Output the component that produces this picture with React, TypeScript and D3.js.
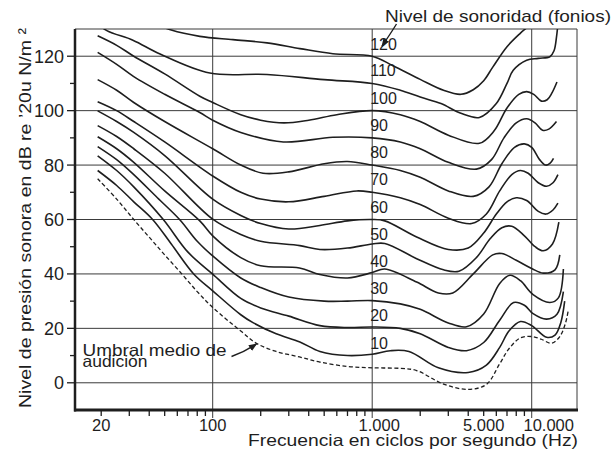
import React from 'react';
import * as d3 from 'd3';

const W = 614;
const H = 458;

// axis values
const yMajorTicks = [0, 20, 40, 60, 80, 100, 120];
const yMinorTicks = [10, 30, 50, 70, 90, 110];
const xGridValues = [100, 1000, 10000];
const xMinorTicks = [20, 30, 40, 50, 60, 70, 80, 90, 200, 300, 400, 500, 600, 700, 800, 900, 2000, 3000, 4000, 5000, 6000, 7000, 8000, 9000];
const xLabelValues = [20, 100, 1000, 5000, 10000];
const xLabelTexts = ['20', '100', '1.000', '5.000', '10.000'];

// equal-loudness curves: [frequency Hz, level dB]
const threshold: [number, number][] = [[19, 75], [25, 67.5], [32, 60], [40, 53.5], [50, 47], [64, 40], [80, 33.5], [100, 27.7], [150, 19], [188, 14.5], [250, 11.5], [350, 9.5], [470, 7.6], [700, 6], [1000, 5.5], [1500, 5.3], [1900, 4.5], [2800, -0.5], [4000, -2.4], [5200, -0.6], [6300, 7], [7200, 12.5], [8500, 16.5], [10000, 17], [11500, 16], [13300, 14.5], [15000, 17], [16300, 22], [17000, 27]];
const phon10: [number, number][] = [[19, 78], [25, 72.5], [32, 66.5], [42, 60], [55, 51], [76, 40], [100, 33.8], [150, 25], [180, 22], [250, 18], [352, 15], [470, 11.5], [700, 10], [1000, 10.5], [1300, 11.8], [1700, 11.5], [2600, 5.5], [4000, 3.8], [5200, 6.5], [6300, 13], [7200, 19], [8500, 22.5], [10000, 21], [12400, 16.7], [14000, 17.5], [15200, 22], [16100, 30]];
const phon20: [number, number][] = [[19, 83.4], [25, 78], [32, 72], [49, 60], [70, 48], [100, 39.9], [150, 31], [200, 27.5], [300, 24.5], [470, 21], [700, 20.3], [1000, 20.5], [1500, 20], [2000, 18], [3000, 13], [3900, 11.8], [5000, 14.8], [6300, 23], [7700, 29.5], [9000, 28.5], [10200, 25.4], [12400, 23.4], [14400, 25.2], [15800, 33.5]];
const phon30: [number, number][] = [[19, 86.8], [25, 82], [32, 76.5], [45, 68], [62, 60], [80, 52], [100, 46.6], [150, 38.5], [200, 35], [300, 31.5], [500, 30], [700, 30], [1000, 30.2], [1500, 29], [2000, 27], [3000, 22], [3900, 20.6], [5000, 25.3], [6300, 36.5], [7300, 39.5], [8500, 37.5], [10200, 32.4], [13000, 29.5], [14700, 31.2], [15800, 41.8]];
const phon40: [number, number][] = [[19, 90.4], [25, 86], [32, 81], [50, 70.5], [83, 59.5], [100, 54], [150, 46], [200, 43], [350, 42.2], [470, 39.8], [700, 38.5], [1000, 40.5], [1200, 41.8], [1900, 37], [2600, 33], [3200, 33], [4300, 40], [5700, 47], [6500, 47.5], [8000, 45], [10000, 42], [11800, 40.3], [14000, 41.5], [15000, 47]];
const phon50: [number, number][] = [[19, 94.5], [25, 90.5], [32, 86], [50, 77], [100, 60.1], [150, 54.5], [200, 52], [352, 50.4], [470, 49], [700, 49.5], [1000, 51], [1200, 51.2], [1900, 45.6], [2800, 41.5], [3500, 41], [4500, 46], [5500, 53], [6500, 57], [7500, 57.5], [9000, 54], [10500, 50], [11800, 48.5], [13500, 51], [14800, 59]];
const phon60: [number, number][] = [[19, 99.9], [25, 96], [32, 92], [50, 83.5], [100, 67.5], [150, 61.5], [200, 58.5], [300, 56.5], [470, 57.8], [700, 59.5], [1000, 60], [1200, 59.5], [1900, 53.6], [3000, 49], [4000, 49.5], [5000, 55], [6000, 62], [7000, 66.5], [8000, 68], [9300, 67], [11000, 63], [12300, 62], [13600, 63.5], [14600, 66]];
const phon70: [number, number][] = [[19, 103.3], [25, 100], [32, 96], [50, 88.5], [100, 76], [150, 70], [200, 67.5], [300, 66.5], [500, 68.5], [800, 70.5], [1000, 70], [1500, 68], [2000, 65.5], [3000, 60.5], [4200, 58.5], [5200, 62], [6300, 70.5], [7500, 76.5], [8500, 78], [9500, 77], [11000, 73.5], [12400, 72.2], [13600, 73.5], [14600, 76.5]];
const phon80: [number, number][] = [[19, 111.4], [25, 107.5], [32, 103], [50, 96], [100, 86], [150, 80], [207, 77], [300, 77.5], [500, 80.5], [700, 81.3], [1000, 80], [1500, 78], [2000, 75.5], [3000, 70.5], [4300, 68.5], [5400, 72], [6500, 80.5], [7800, 86.5], [9000, 87.8], [10000, 86.5], [11200, 82], [12200, 80], [13000, 80.6], [13700, 82.5]];
const phon90: [number, number][] = [[19, 121.4], [25, 117], [32, 112.5], [50, 106], [83, 99.3], [100, 96.5], [150, 92], [277, 88.5], [567, 90.2], [1000, 90], [1500, 88.5], [2000, 86], [3000, 81], [4500, 78.5], [5600, 82], [6700, 90], [8000, 95.5], [9300, 97], [10500, 95.5], [11700, 92.8], [12800, 93.2], [14300, 96]];
const phon100: [number, number][] = [[19, 127.5], [25, 124], [32, 120], [50, 113.5], [83, 105.3], [100, 103], [150, 98.5], [200, 96.5], [280, 95.5], [400, 96.5], [600, 98.5], [1000, 100], [1500, 98.5], [2000, 96], [3000, 91], [4700, 88], [5800, 92.5], [7000, 101], [8300, 106], [9300, 107], [10300, 106], [11500, 103.5], [12500, 104], [13400, 106.5], [14400, 110.5]];
const phon110: [number, number][] = [[18, 133], [21.7, 129.4], [31.6, 125.9], [46.8, 120.8], [96, 113.8], [219, 113.3], [500, 111.4], [1000, 110], [1500, 107.5], [2000, 105], [2700, 102.6], [3600, 99], [4700, 97.5], [6000, 102.6], [7000, 110], [7660, 114.8], [9300, 118.5], [11000, 119.2], [13000, 119.8], [13800, 122], [14300, 127], [14700, 134]];
const phon120: [number, number][] = [[40, 133], [55, 129.6], [83, 127.3], [134, 126.1], [219, 124.9], [352, 122.8], [567, 120.9], [1000, 120], [1350, 116.5], [2000, 111.5], [2800, 107.5], [3600, 106], [4300, 107.7], [5000, 111], [5700, 116], [7000, 123.5], [8500, 128.5], [9500, 131], [10000, 133]];

const phonLevels = [120, 110, 100, 90, 80, 70, 60, 50, 40, 30, 20, 10];
const phonCurves = [phon120, phon110, phon100, phon90, phon80, phon70, phon60, phon50, phon40, phon30, phon20, phon10];

const FONT = "'Liberation Sans', Arial, sans-serif";
const INK = '#1e1e1e';

export default function App() {
  const left = 75, right = 577, top = 29, bottom = 410;
  const x = d3.scaleLog().domain([13.7, 19230]).range([left, right]);
  const y = d3.scaleLinear().domain([-10, 130]).range([bottom, top]);
  const line = d3.line<[number, number]>()
    .x(d => x(d[0]))
    .y(d => y(d[1]))
    .curve(d3.curveCatmullRom.alpha(0.5));

  const labelDy: Record<number, number> = { 120: 1 };
  const xLabelDx: Record<number, number> = { 1000: 7, 10000: 17 };

  return (
    <svg width={W} height={H} style={{ position: 'absolute', left: 0, top: 0, background: '#fff' }}
      fontFamily={FONT}>
      <defs>
        <clipPath id="plot">
          <rect x={left} y={top} width={right - left} height={bottom - top} />
        </clipPath>
        <marker id="arrow" viewBox="0 0 10 10" refX="9" refY="5" markerWidth="6" markerHeight="6" orient="auto">
          <path d="M0,1 L10,5 L0,9 z" fill={INK} />
        </marker>
      </defs>
      <rect x={0} y={0} width={W} height={H} fill="#fff" />

      {/* horizontal grid */}
      {yMajorTicks.map(v => (
        <line key={'hg' + v} x1={left} x2={right} y1={y(v)} y2={y(v)} stroke="#3a3a3a" strokeWidth={1} />
      ))}
      {/* vertical grid */}
      {xGridValues.map(v => (
        <line key={'vg' + v} x1={x(v)} x2={x(v)} y1={top} y2={bottom + 8} stroke="#3a3a3a" strokeWidth={1} />
      ))}
      {/* frame */}
      <line x1={left} x2={right} y1={top} y2={top} stroke="#3a3a3a" strokeWidth={1} />
      <line x1={right} x2={right} y1={top} y2={bottom} stroke="#3a3a3a" strokeWidth={1} />
      <line x1={left} x2={left} y1={top} y2={bottom + 1.5} stroke={INK} strokeWidth={2.5} />
      <line x1={left - 1} x2={right + 1} y1={bottom} y2={bottom} stroke={INK} strokeWidth={3} />

      {/* y ticks */}
      {yMajorTicks.map(v => (
        <g key={'yt' + v}>
          <line x1={left - 8} x2={left} y1={y(v)} y2={y(v)} stroke={INK} strokeWidth={1.3} />
          <text x={left - 11} y={y(v) + 6.5} textAnchor="end" fontSize={18} fill={INK}>{v}</text>
        </g>
      ))}
      {yMinorTicks.map(v => (
        <line key={'ym' + v} x1={left - 5} x2={left} y1={y(v)} y2={y(v)} stroke={INK} strokeWidth={1.3} />
      ))}

      {/* x ticks */}
      {xMinorTicks.map(v => (
        <line key={'xm' + v} x1={x(v)} x2={x(v)} y1={bottom} y2={bottom + 6} stroke={INK} strokeWidth={1.3} />
      ))}
      {xLabelValues.map((v, i) => (
        <text key={'xl' + v} x={x(v) + (xLabelDx[v] || 0)} y={431} textAnchor="middle" fontSize={16.5} fill={INK}>
          {xLabelTexts[i]}
        </text>
      ))}

      {/* curves */}
      <g clipPath="url(#plot)" fill="none">
        {phonCurves.map((c, i) => (
          <path key={'c' + phonLevels[i]} d={line(c) || ''} stroke={INK} strokeWidth={1.6} />
        ))}
        <path d={line(threshold) || ''} stroke={INK} strokeWidth={1.3} strokeDasharray="4 2.5" />
      </g>

      {/* curve labels */}
      {phonLevels.map(p => (
        <text key={'pl' + p} x={x(1000) - 2} y={y(p) - 7 + (labelDy[p] || 0)} fontSize={16} fill={INK}>{p}</text>
      ))}

      {/* annotations */}
      <text x={385} y={21.5} fontSize={17} fill={INK} textLength={226} lengthAdjust="spacingAndGlyphs">Nivel de sonoridad (fonios)</text>
      <path d="M396.5,24 Q391,33 382,46" fill="none" stroke={INK} strokeWidth={1.4} markerEnd="url(#arrow)" />

      <text x={82.5} y={355.5} fontSize={16.5} fill={INK} textLength={144} lengthAdjust="spacingAndGlyphs">Umbral medio de</text>
      <text x={82.5} y={367} fontSize={16.5} fill={INK} textLength={65} lengthAdjust="spacingAndGlyphs">audición</text>
      <path d="M231.5,356.5 Q244,352 256.5,344" fill="none" stroke={INK} strokeWidth={1.4} markerEnd="url(#arrow)" />

      {/* axis titles */}
      <text x={248} y={446} fontSize={16.5} fill={INK} textLength={330} lengthAdjust="spacingAndGlyphs">Frecuencia en ciclos por segundo (Hz)</text>
      <text transform="translate(31,408) rotate(-90)" x={0} y={0} fontSize={17} fill={INK} textLength={380} lengthAdjust="spacingAndGlyphs">Nivel de presión sonora en dB re ’20u N/m ²</text>
    </svg>
  );
}
